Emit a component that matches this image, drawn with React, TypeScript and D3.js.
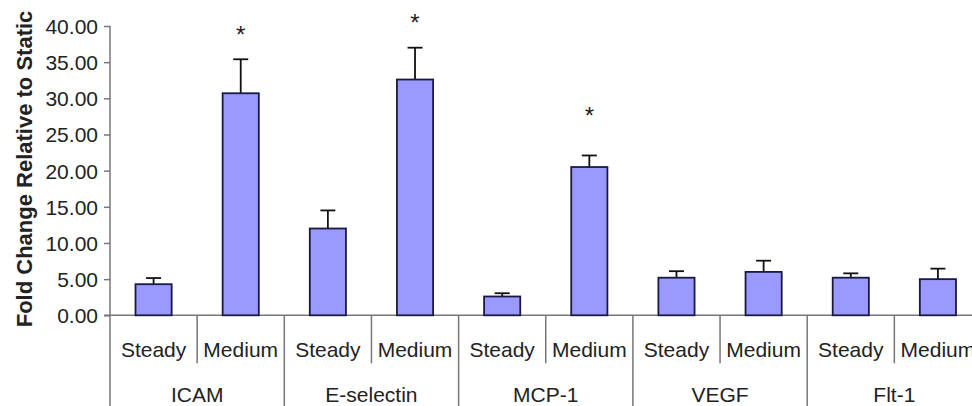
import React, { useRef, useEffect } from "react";
import * as d3 from "d3";

const genes = ["ICAM", "E-selectin", "MCP-1", "VEGF", "Flt-1"];
const conditions = ["Steady", "Medium"];
const steadyMeans = [4.3, 12.0, 2.6, 5.2, 5.2];
const steadyErr = [0.85, 2.5, 0.45, 0.9, 0.6];
const mediumMeans = [30.7, 32.6, 20.5, 6.0, 5.0];
const mediumErr = [4.7, 4.4, 1.6, 1.55, 1.45];
// asterisk (significance) level, in fold-change units, per gene; null = none
const starLevels = [39.3, 40.9, 28.1, null, null];
const yTicks = [0, 5, 10, 15, 20, 25, 30, 35, 40];

const App = () => {
  const svgRef = useRef<SVGSVGElement>(null);

  useEffect(() => {
    const width = 972, height = 406;
    const margin = { top: 26, left: 110, bottom: 315.3 };
    const groupW = 174.3;
    const font = "'Liberation Sans', Arial, sans-serif";
    const axisColor = "#777";

    const svg = d3.select(svgRef.current)
      .attr("width", width)
      .attr("height", height)
      .style("background", "#fff");
    svg.selectAll("*").remove();

    const rows = genes.map((g, i) => ({
      gene: g,
      bars: [
        { cond: conditions[0], mean: steadyMeans[i], err: steadyErr[i] },
        { cond: conditions[1], mean: mediumMeans[i], err: mediumErr[i] },
      ],
      star: starLevels[i],
    }));

    const x0 = d3.scaleBand()
      .domain(genes)
      .range([margin.left, margin.left + groupW * genes.length]);

    const x1 = d3.scaleBand()
      .domain(conditions)
      .range([0, x0.bandwidth()])
      .paddingInner(0.585)
      .paddingOuter(0.2925);

    const y = d3.scaleLinear()
      .domain([0, 40])
      .range([margin.bottom, margin.top]);

    // y axis
    const yAxis = svg.append("g")
      .attr("transform", `translate(${margin.left},0)`)
      .call(d3.axisLeft(y).tickValues(yTicks).tickFormat(d3.format(".2f")).tickSize(6).tickPadding(6));
    yAxis.select(".domain").remove();
    yAxis.selectAll("line").attr("stroke", axisColor).attr("stroke-width", 1.5);
    yAxis.selectAll("text")
      .attr("font-family", font)
      .attr("font-size", 21)
      .attr("fill", "#222")
      .attr("dy", "0.35em");

    // vertical axis line extending through the category area
    svg.append("line")
      .attr("x1", margin.left).attr("x2", margin.left)
      .attr("y1", y(40)).attr("y2", height)
      .attr("stroke", axisColor).attr("stroke-width", 1.5);

    // baseline
    svg.append("line")
      .attr("x1", margin.left - 6).attr("x2", width)
      .attr("y1", y(0)).attr("y2", y(0))
      .attr("stroke", axisColor).attr("stroke-width", 1.5);

    // y title
    svg.append("text")
      .attr("transform", "rotate(-90)")
      .attr("x", -(y(0) + 12))
      .attr("y", 32)
      .attr("font-family", font)
      .attr("font-size", 22)
      .attr("font-weight", "bold")
      .attr("fill", "#222")
      .text("Fold Change Relative to Static");

    const groups = svg.selectAll("g.gene")
      .data(rows)
      .enter()
      .append("g")
      .attr("class", "gene")
      .attr("transform", d => `translate(${x0(d.gene)},0)`);

    // category separators
    groups.filter((d, i) => i > 0).append("line")
      .attr("x1", 0).attr("x2", 0)
      .attr("y1", y(0)).attr("y2", height)
      .attr("stroke", axisColor).attr("stroke-width", 1.5);

    // sub-dividers between Steady / Medium
    groups.append("line")
      .attr("x1", x0.bandwidth() / 2).attr("x2", x0.bandwidth() / 2)
      .attr("y1", y(0)).attr("y2", y(0) + 48)
      .attr("stroke", axisColor).attr("stroke-width", 1.5);

    const bars = groups.selectAll("g.bar")
      .data(d => d.bars)
      .enter()
      .append("g")
      .attr("class", "bar");

    // error bars
    bars.append("line")
      .attr("x1", d => x1(d.cond)! + x1.bandwidth() / 2)
      .attr("x2", d => x1(d.cond)! + x1.bandwidth() / 2)
      .attr("y1", d => y(d.mean))
      .attr("y2", d => y(d.mean + d.err))
      .attr("stroke", "#111").attr("stroke-width", 1.8);
    bars.append("line")
      .attr("x1", d => x1(d.cond)! + x1.bandwidth() / 2 - 7.5)
      .attr("x2", d => x1(d.cond)! + x1.bandwidth() / 2 + 7.5)
      .attr("y1", d => y(d.mean + d.err))
      .attr("y2", d => y(d.mean + d.err))
      .attr("stroke", "#111").attr("stroke-width", 1.8);

    bars.append("rect")
      .attr("x", d => x1(d.cond)!)
      .attr("y", d => y(d.mean))
      .attr("width", x1.bandwidth())
      .attr("height", d => y(0) - y(d.mean))
      .attr("fill", "#9999ff")
      .attr("stroke", "#1a1a40")
      .attr("stroke-width", 1.8);

    // condition labels
    bars.append("text")
      .attr("x", d => x1(d.cond)! + x1.bandwidth() / 2)
      .attr("y", 357)
      .attr("text-anchor", "middle")
      .attr("font-family", font)
      .attr("font-size", 21)
      .attr("fill", "#222")
      .text(d => d.cond);

    // gene labels
    groups.append("text")
      .attr("x", x0.bandwidth() / 2)
      .attr("y", 401.5)
      .attr("text-anchor", "middle")
      .attr("font-family", font)
      .attr("font-size", 21)
      .attr("fill", "#222")
      .text(d => d.gene);

    // significance asterisks above the Medium bar
    groups.filter(d => d.star != null).append("text")
      .attr("x", x1("Medium")! + x1.bandwidth() / 2)
      .attr("y", d => y(d.star as number) + 12)
      .attr("text-anchor", "middle")
      .attr("font-family", font)
      .attr("font-size", 24)
      .attr("fill", "#222")
      .text("*");
  }, []);

  return (
    <div style={{ position: "fixed", left: 0, top: 0 }}>
      <svg ref={svgRef} style={{ display: "block" }}></svg>
    </div>
  );
};

export default App;
